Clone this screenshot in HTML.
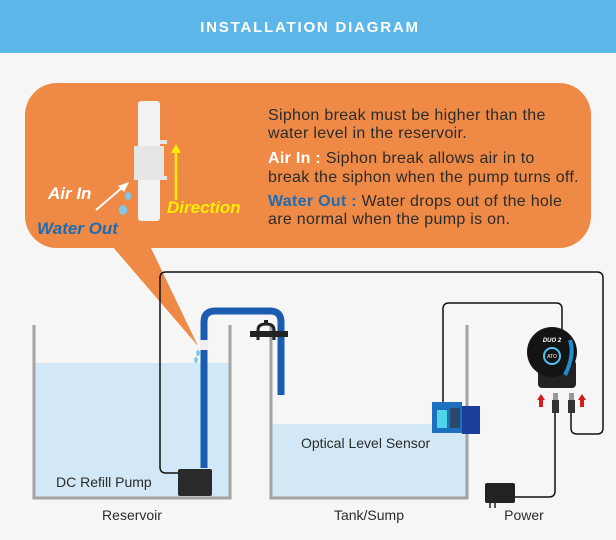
<!DOCTYPE html>
<html><head><meta charset="utf-8"><style>
html,body{margin:0;padding:0;background:#f6f6f6;}
svg{display:block;font-family:"Liberation Sans",sans-serif;}
</style></head><body>
<svg width="616" height="540" viewBox="0 0 616 540" xmlns="http://www.w3.org/2000/svg">
<rect width="616" height="540" fill="#f6f6f6"/>
<rect width="616" height="53" fill="#5cb6e7"/>
<text x="310" y="32" text-anchor="middle" fill="#fff" font-size="15" font-weight="bold" letter-spacing="1.8">INSTALLATION DIAGRAM</text>

<!-- callout -->
<rect x="25" y="83" width="566" height="165" rx="32" fill="#ee8a45"/>
<polygon points="112,246 150,246 198,346" fill="#ee8a45"/>
<!-- siphon piece -->
<rect x="138" y="101" width="22" height="120" rx="3" fill="#f2f2f2"/>
<rect x="134" y="146" width="30" height="34" fill="#e6e6e6"/>
<rect x="160" y="140" width="7" height="4" fill="#e6e6e6"/>
<rect x="160" y="176" width="7" height="4" fill="#e6e6e6"/>
<line x1="176" y1="200" x2="176" y2="152" stroke="#ffee00" stroke-width="2.5"/>
<polygon points="171,153 181,153 176,144" fill="#ffee00"/>
<line x1="96" y1="210" x2="124" y2="186" stroke="#fff" stroke-width="2"/>
<polygon points="129,182 118,186 124,192" fill="#fff"/>
<ellipse cx="128" cy="196" rx="3" ry="4" fill="#7cc9f0"/>
<ellipse cx="123" cy="210" rx="4" ry="5" fill="#7cc9f0"/>
<text x="48" y="199" fill="#fff" font-size="17" font-weight="bold" font-style="italic">Air In</text>
<text x="37" y="234" fill="#1e6cb3" font-size="17" font-weight="bold" font-style="italic">Water Out</text>
<text x="167" y="213" fill="#ffee00" font-size="17" font-weight="bold" font-style="italic">Direction</text>
<g font-size="16" fill="#2b2b2b" letter-spacing="0.3">
<text x="268" y="120">Siphon break must be higher than the</text>
<text x="268" y="138">water level in the reservoir.</text>
<text x="268" y="163"><tspan fill="#fff" font-weight="bold">Air In :</tspan> Siphon break allows air in to</text>
<text x="268" y="182">break the siphon when the pump turns off.</text>
<text x="268" y="206"><tspan fill="#1e6cb3" font-weight="bold">Water Out :</tspan> Water drops out of the hole</text>
<text x="268" y="224">are normal when the pump is on.</text>
</g>

<!-- water -->
<rect x="34" y="363" width="196" height="135" fill="#d3e8f6"/>
<rect x="272" y="424" width="195" height="74" fill="#d3e8f6"/>
<!-- tanks -->
<path d="M34 325 V498 H230 V325" fill="none" stroke="#a3a3a3" stroke-width="3"/>
<path d="M271 325 V498 H467 V325" fill="none" stroke="#a3a3a3" stroke-width="3"/>

<!-- wires -->
<path d="M178 473 H166 Q160 473 160 467 V278 Q160 272 166 272 H597 Q603 272 603 278 V428 Q603 434 597 434 H577 Q571 434 571 428 V412" fill="none" stroke="#111" stroke-width="1.5"/>
<path d="M443 402 V309 Q443 303 449 303 H556 Q562 303 562 309 V330" fill="none" stroke="#111" stroke-width="1.5"/>
<path d="M555 412 V491 Q555 497 549 497 H514" fill="none" stroke="#111" stroke-width="1.5"/>

<!-- pipe -->
<path d="M204 468 V322 Q204 311 215 311 H270 Q281 311 281 322 V395" fill="none" stroke="#1a5cb0" stroke-width="7"/>
<rect x="200" y="340" width="8" height="10" fill="#eee"/>
<ellipse cx="198" cy="353" rx="2" ry="3" fill="#7cc9f0"/>
<ellipse cx="196" cy="360" rx="2" ry="3" fill="#7cc9f0"/>
<!-- clamp -->
<path d="M258 340 V330 Q258 324 266 324 Q274 324 274 330 V340" fill="none" stroke="#222" stroke-width="3"/>
<rect x="250" y="331" width="38" height="6" fill="#222"/>
<rect x="264" y="320" width="4" height="5" fill="#222"/>
<!-- pump -->
<rect x="178" y="469" width="34" height="27" rx="2" fill="#2a2a2a"/>

<!-- sensor -->
<rect x="432" y="402" width="30" height="31" fill="#1d6fc0"/>
<rect x="437" y="410" width="10" height="18" fill="#4fd5e8"/>
<rect x="450" y="408" width="10" height="20" fill="#2b4a6b"/>
<rect x="462" y="406" width="18" height="28" fill="#1a3f9a"/>
<!-- controller -->
<rect x="538" y="360" width="38" height="28" rx="4" fill="#222"/>
<circle cx="552" cy="352" r="25" fill="#141414"/>
<circle cx="552" cy="356" r="8" fill="none" stroke="#4fc3f7" stroke-width="2"/>
<text x="552" y="358" text-anchor="middle" fill="#fff" font-size="5">ATO</text>
<text x="552" y="342" text-anchor="middle" fill="#fff" font-size="6" font-style="italic" font-weight="bold">DUO 2</text>
<path d="M565 375 Q575 355 570 340" fill="none" stroke="#1d8fd0" stroke-width="4"/>
<!-- plugs -->
<rect x="553" y="393" width="5" height="7" fill="#999"/>
<rect x="552" y="400" width="7" height="13" fill="#333"/>
<rect x="569" y="393" width="5" height="7" fill="#999"/>
<rect x="568" y="400" width="7" height="13" fill="#333"/>
<polygon points="541,394 545,400 543,400 543,407 539,407 539,400 537,400" fill="#d41c1c"/>
<polygon points="582,394 586,400 584,400 584,407 580,407 580,400 578,400" fill="#d41c1c"/>
<!-- adapter -->
<rect x="485" y="483" width="30" height="20" rx="2" fill="#222"/>
<rect x="489" y="503" width="2" height="5" fill="#555"/>
<rect x="494" y="503" width="2" height="5" fill="#555"/>

<!-- labels -->
<g font-size="14" fill="#2b2b2b">
<text x="56" y="487">DC Refill Pump</text>
<text x="132" y="520" text-anchor="middle">Reservoir</text>
<text x="301" y="448">Optical Level Sensor</text>
<text x="369" y="520" text-anchor="middle">Tank/Sump</text>
<text x="524" y="520" text-anchor="middle">Power</text>
</g>
</svg>
</body></html>
